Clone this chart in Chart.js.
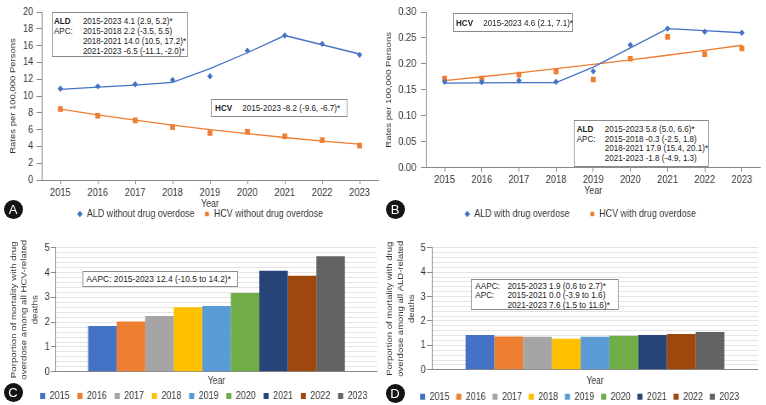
<!DOCTYPE html>
<html><head><meta charset="utf-8">
<script src="https://cdn.jsdelivr.net/npm/chart.js@4/dist/chart.umd.min.js"></script>
<style>
html,body{margin:0;padding:0;background:#fff;overflow:hidden;width:766px;height:405px;}
#wrap{position:absolute;left:0;top:0;width:901px;height:405px;overflow:hidden;transform:scaleX(0.85);transform-origin:0 0;font-family:"Liberation Sans",Arial,sans-serif;color:#222;}
canvas{position:absolute;}
.box{position:absolute;border:1px solid #8a8a8a;background:#fff;box-sizing:border-box;white-space:nowrap;z-index:5;}
.row span{display:inline-block;}
.lab{position:absolute;width:19px;height:19px;margin:-9.5px 0 0 -9.5px;border-radius:50%;background:#141414;color:#fff;font:13px "Liberation Sans",Arial,sans-serif;text-align:center;line-height:19px;z-index:6;}
</style></head>
<body>
<div id="wrap">
  <canvas id="cA" width="450" height="242" style="left:0;top:0"></canvas>
  <canvas id="cB" width="451" height="242" style="left:450px;top:0"></canvas>
  <canvas id="cC" width="450" height="185" style="left:0;top:232px"></canvas>
  <canvas id="cD" width="451" height="184" style="left:450px;top:232px"></canvas>

  <div class="box" style="left:61px;top:12px;width:160px;height:45px;padding:2.5px 0 0 1.5px;font-size:9.5px;line-height:10px;">
    <div class="row"><span style="width:34px"><b>ALD</b></span><span>2015-2023 4.1 (2.9, 5.2)*</span></div>
    <div class="row"><span style="width:34px">APC:</span><span>2015-2018 2.2 (-3.5, 5.5)</span></div>
    <div class="row"><span style="width:34px"></span><span>2018-2021 14.0 (10.5, 17.2)*</span></div>
    <div class="row"><span style="width:34px"></span><span>2021-2023 -6.5 (-11.1, -2.0)*</span></div>
  </div>
  <div class="box" style="left:248px;top:99px;width:161px;height:18px;padding:3px 0 0 4px;font-size:9.5px;line-height:10px;">
    <div class="row"><span style="width:32px"><b>HCV</b></span><span>2015-2023 -8.2 (-9.6, -6.7)*</span></div>
  </div>
  <div class="box" style="left:533px;top:13px;width:141px;height:19px;padding:3.5px 0 0 2.5px;font-size:9.5px;line-height:10px;">
    <div class="row"><span style="width:32px"><b>HCV</b></span><span>2015-2023 4.6 (2.1, 7.1)*</span></div>
  </div>
  <div class="box" style="left:675px;top:120px;width:159px;height:47px;padding:3px 0 0 2.5px;font-size:9.5px;line-height:9.6px;">
    <div class="row"><span style="width:33px"><b>ALD</b></span><span>2015-2023 5.8 (5.0, 6.6)*</span></div>
    <div class="row"><span style="width:33px">APC:</span><span>2015-2018 -0.3 (-2.5, 1.8)</span></div>
    <div class="row"><span style="width:33px"></span><span>2018-2021 17.9 (15.4, 20.1)*</span></div>
    <div class="row"><span style="width:33px"></span><span>2021-2023 -1.8 (-4.9, 1.3)</span></div>
  </div>
  <div class="box" style="left:96.5px;top:271px;width:183.5px;height:15.5px;padding:1.2px 0 0 4px;font-size:9.9px;line-height:12px;">
    <div class="row"><span>AAPC: 2015-2023 12.4 (-10.5 to 14.2)*</span></div>
  </div>
  <div class="box" style="left:554px;top:279px;width:174px;height:31px;padding:1px 0 0 4px;font-size:9.7px;line-height:9.3px;">
    <div class="row"><span style="width:38px">AAPC:</span><span>2015-2023 1.9 (0.6 to 2.7)*</span></div>
    <div class="row"><span style="width:38px">APC:</span><span>2015-2021 0.0 (-3.9 to 1.6)</span></div>
    <div class="row"><span style="width:38px"></span><span>2021-2023 7.6 (1.5 to 11.6)*</span></div>
  </div>
</div>
<div class="lab" style="left:13px;top:209px">A</div>
<div class="lab" style="left:395px;top:209px">B</div>
<div class="lab" style="left:13px;top:392.5px">C</div>
<div class="lab" style="left:395px;top:393px">D</div>

<script>
// ---------- data ----------
const years = ['2015','2016','2017','2018','2019','2020','2021','2022','2023'];
// Panel A: without drug overdose (rates per 100,000)
const aldWithout    = [10.87, 11.15, 11.4, 11.9, 12.35, 15.4, 17.2, 16.2, 14.9];
const aldWithoutFit = [10.8, 11.05, 11.3, 11.62, 13.25, 15.15, 17.2, 16.1, 15.0];
const hcvWithout    = [8.45, 7.65, 7.1, 6.3, 5.6, 5.75, 5.2, 4.75, 4.1];
const hcvWithoutFit = [8.45, 7.76, 7.12, 6.54, 6.0, 5.51, 5.06, 4.64, 4.26];
// Panel B: with drug overdose
const aldWith    = [0.1655, 0.165, 0.168, 0.1655, 0.186, 0.2366, 0.268, 0.262, 0.26];
const aldWithFit = [0.163, 0.1635, 0.164, 0.164, 0.194, 0.231, 0.268, 0.264, 0.26];
const hcvWith    = [0.172, 0.172, 0.1796, 0.1855, 0.170, 0.210, 0.252, 0.219, 0.230];
const hcvWithFit = [0.168, 0.1753, 0.1829, 0.1908, 0.1991, 0.2077, 0.2167, 0.2261, 0.236];
// Panel C / D: proportion of mortality with drug overdose
const propHCV = [1.85, 2.03, 2.25, 2.6, 2.65, 3.17, 4.07, 3.87, 4.66];
const propALD = [1.43, 1.36, 1.35, 1.27, 1.35, 1.39, 1.42, 1.47, 1.55];
const yTicksA = {min:0, max:20, step:2};
const yTicksB = {min:0, max:0.30, step:0.05};
const yTicksCD = {min:0, max:5, step:1};

// ---------- styling ----------
const BLUE = '#4472C4', ORANGE = '#ED7D31';
const barColors = ['#4472C4','#ED7D31','#A5A5A5','#FFC000','#5B9BD5','#70AD47','#264478','#9E480E','#636363'];
const AX = '#8a8a8a', TXT = '#333';
Chart.defaults.font.family = '"Liberation Sans", Arial, sans-serif';
Chart.defaults.color = TXT;

const legendPlace = {
  id: 'legendPlace',
  afterLayout(chart, args, o) {
    const lg = chart.legend; if (!lg || !o) return;
    const h = lg.bottom - lg.top;
    const top = o.cy - o.pad - o.fs / 2;
    lg.top = top; lg.bottom = top + h;
    lg.left += o.dx; lg.right += o.dx;
  }
};

function lineChart(id, lbl, ald, aldFit, hcv, hcvFit, yt, o) {
  return new Chart(document.getElementById(id), {
    type: 'line',
    data: { labels: years, datasets: [
      { label: lbl[0], data: ald, showLine: false, pointStyle: 'rectRot', pointRadius: 3.2, backgroundColor: BLUE, borderColor: BLUE, borderWidth: 0 },
      { label: lbl[1], data: hcv, showLine: false, pointStyle: 'rect', pointRadius: 4, backgroundColor: ORANGE, borderColor: ORANGE, borderWidth: 0 },
      { label: 'fit1', data: aldFit, borderColor: BLUE, borderWidth: 1.3, pointRadius: 0, fill: false, tension: 0 },
      { label: 'fit2', data: hcvFit, borderColor: ORANGE, borderWidth: 1.3, pointRadius: 0, fill: false, tension: 0 }
    ]},
    options: {
      responsive: false, animation: false, events: [],
      layout: { padding: { left: 0, right: o.padR, top: 12, bottom: 0 } },
      plugins: {
        tooltip: { enabled: false },
        legend: { position: 'bottom', labels: { usePointStyle: true, boxWidth: 6, boxHeight: 4.6, padding: o.lpad, font: { size: 10.5 }, color: TXT,
          filter: (it) => it.datasetIndex < 2 } },
        legendPlace: { dx: o.dx, cy: 214, pad: o.lpad, fs: 10.5 }
      },
      scales: {
        x: { offset: true,
          grid: { display: true, drawOnChartArea: false, drawTicks: true, tickLength: 4, color: AX, offset: false },
          border: { color: AX },
          ticks: { font: { size: 11 }, padding: 2, color: TXT, maxRotation: 0, autoSkip: false },
          title: { display: true, text: 'Year', font: { size: 10.5 }, padding: { top: 0, bottom: 0 }, color: TXT },
          afterFit: (s) => { s.height = 30; } },
        y: { min: yt.min, max: yt.max,
          grid: { drawOnChartArea: false, drawTicks: true, tickLength: 6, color: AX },
          border: { color: AX },
          ticks: { stepSize: yt.step, font: { size: 11 }, padding: o.tpad, color: TXT,
            callback: (v) => o.dec ? Number(v).toFixed(o.dec) : v },
          title: { display: true, text: 'Rates per 100,000 Persons', font: { size: 9.5 }, padding: { top: o.titleTop, bottom: 0 }, color: TXT },
          afterFit: (s) => { s.width = o.yw; } }
      }
    },
    plugins: [legendPlace]
  });
}

lineChart('cA', ['ALD without drug overdose', 'HCV without drug overdose'], aldWithout, aldWithoutFit, hcvWithout, hcvWithoutFit, yTicksA,
  { padR: 5, lpad: 11.5, dx: 13, tpad: 3.8, titleTop: 9.6, yw: 49, dec: 0 });
lineChart('cB', ['ALD with drug overdose', 'HCV with drug overdose'], aldWith, aldWithFit, hcvWith, hcvWithFit, yTicksB,
  { padR: 6.4, lpad: 23.7, dx: 10.5, tpad: 5.4, titleTop: 1.9, yw: 51.2, dec: 2 });

const isInt = (v) => Math.abs(v - Math.round(v)) < 1e-6;

function barChart(id, vals, title, o) {
  return new Chart(document.getElementById(id), {
    type: 'bar',
    data: { labels: [''], datasets: years.map((y, i) => ({ label: y, data: [vals[i]], backgroundColor: barColors[i], borderWidth: 0 })) },
    options: {
      responsive: false, animation: false, events: [],
      layout: { padding: { left: 0, right: o.padR, top: 15.7, bottom: 0 } },
      datasets: { bar: { categoryPercentage: o.cat, barPercentage: 1 } },
      plugins: {
        tooltip: { enabled: false },
        legend: { position: 'bottom', labels: { boxWidth: 6, boxHeight: 6, padding: o.lpad, font: { size: 10.5 }, color: TXT } },
        legendPlace: { dx: o.dx, cy: o.lcy, pad: o.lpad, fs: 10.5 }
      },
      scales: {
        x: { grid: { display: false }, border: { color: AX },
          ticks: { display: false },
          title: { display: true, text: 'Year', font: { size: 10 }, padding: { top: 0, bottom: 0 }, color: TXT },
          afterFit: (s) => { s.height = o.xh; } },
        y: { min: yTicksCD.min, max: yTicksCD.max,
          grid: { color: '#e4e4e4', tickLength: 6, tickColor: (c) => isInt(c.tick.value) ? AX : 'rgba(0,0,0,0)' },
          border: { color: AX },
          ticks: { stepSize: yTicksCD.step / 5, autoSkip: false, font: { size: 11 }, padding: 1.4, color: TXT,
            callback: (v) => isInt(v) ? String(Math.round(v)) : '' },
          title: { display: true, text: title, font: { size: o.tfs, lineHeight: o.tlh }, padding: { top: o.titleTop, bottom: 0 }, color: TXT },
          afterFit: (s) => { s.width = o.yw; } }
      }
    },
    plugins: [legendPlace]
  });
}

barChart('cC', propHCV, ['Porportion of mortality with drug', 'overdose among all HCV-related', 'deaths'],
  { padR: 6.5, cat: 0.8, lpad: 9.2, dx: 18, lcy: 164, xh: 15.5, yw: 65.9, tfs: 9.7, tlh: 1.27, titleTop: 10.3 });
barChart('cD', propALD, ['Porportion of mortality with drug', 'overdose among all ALD-related', 'deaths'],
  { padR: 9.2, cat: 0.794, lpad: 8, dx: 11, lcy: 164.7, xh: 17.7, yw: 58.2, tfs: 9.5, tlh: 1.37, titleTop: 2 });
</script>
</body></html>
